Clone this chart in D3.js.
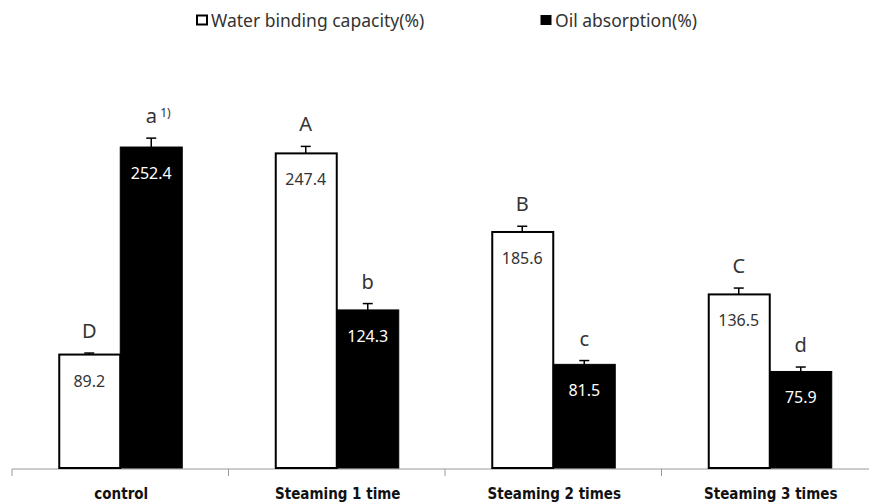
<!DOCTYPE html>
<html><head><meta charset="utf-8">
<script src="https://cdn.jsdelivr.net/npm/d3@7"></script>
<style>body{margin:0;background:#fff}</style>
</head><body>
<svg id="c" width="869" height="504"></svg>
<script>
const categories = ["control", "Steaming 1 time", "Steaming 2 times", "Steaming 3 times"];
const seriesNames = ["Water binding capacity(%)", "Oil absorption(%)"];
const water = [89.2, 247.4, 185.6, 136.5];
const oil = [252.4, 124.3, 81.5, 75.9];
const waterErr = [1.2, 5.5, 4.5, 5];
const oilErr = [7, 5, 3, 3.5];
const waterLetters = ["D", "A", "B", "C"];
const oilLetters = ["a", "b", "c", "d"];

const svg = d3.select("#c");
const x = d3.scaleBand().domain(categories).range([12, 878]).paddingInner(0).paddingOuter(0);
const y = d3.scaleLinear().domain([0, 300]).range([468, 86.5]);
const barW = 62;

// axis
const ax = svg.append("g").attr("transform", "translate(0,469)");
ax.append("line").attr("x1", 12).attr("x2", 869).attr("stroke", "#999").attr("stroke-width", 1);
const tickPos = categories.map(c => x(c));
ax.selectAll("line.t").data(tickPos).enter().append("line").attr("class","t")
  .attr("x1", d => d).attr("x2", d => d).attr("y1", 0).attr("y2", 7).attr("stroke", "#999");
ax.selectAll("text").data(categories).enter().append("text")
  .attr("x", d => x(d) + x.bandwidth()/2 + 1).attr("y", 30)
  .attr("text-anchor", "middle").attr("font-family", "'DejaVu Sans Condensed', 'DejaVu Sans'")
  .attr("font-weight", "bold").attr("font-size", 15).attr("fill", "#111").text(d => d);

const data = [];
categories.forEach((c, i) => {
  data.push({c, v: water[i], e: waterErr[i], l: waterLetters[i], s: 0});
  data.push({c, v: oil[i], e: oilErr[i], l: oilLetters[i], s: 1});
});
const bx = d => x(d.c) + x.bandwidth()/2 + (d.s === 0 ? -barW : 0);

const g = svg.append("g");
// error bars
g.selectAll("g.err").data(data).enter().append("g").each(function(d){
  const cx = bx(d) + barW/2;
  const s = d3.select(this);
  s.append("line").attr("x1", cx).attr("x2", cx).attr("y1", y(d.v)).attr("y2", y(d.v + d.e)).attr("stroke", "#000").attr("stroke-width", 1.5);
  s.append("line").attr("x1", cx-5).attr("x2", cx+5).attr("y1", y(d.v + d.e)).attr("y2", y(d.v + d.e)).attr("stroke", "#000").attr("stroke-width", 1.5);
});
g.selectAll("rect").data(data).enter().append("rect")
  .attr("x", d => bx(d) + (d.s === 0 ? 1 : 0)).attr("width", d => d.s === 0 ? barW - 1 : barW)
  .attr("y", d => y(d.v)).attr("height", d => y(0) - y(d.v))
  .attr("fill", d => d.s === 0 ? "#fff" : "#000").attr("stroke", "#000").attr("stroke-width", d => d.s === 0 ? 2 : 1);
// value labels
g.selectAll("text.val").data(data).enter().append("text").attr("class","val")
  .attr("x", d => bx(d) + barW/2).attr("y", d => y(d.v) + 32)
  .attr("text-anchor", "middle").attr("font-family", "'Noto Sans', sans-serif").attr("font-size", 16)
  .attr("fill", d => d.s === 0 ? "#333" : "#fff").text(d => d.v.toFixed(1));
// letters
g.selectAll("text.let").data(data).enter().append("text").attr("class","let")
  .attr("x", d => bx(d) + barW/2).attr("y", d => y(d.v + d.e) - 15)
  .attr("text-anchor", "middle").attr("font-family", "'Noto Sans', sans-serif").attr("font-size", 20)
  .attr("fill", "#333").text(d => d.l);
// superscript on first oil letter
const d0 = data[1];
g.append("text").attr("x", bx(d0) + barW/2 + 9).attr("y", y(d0.v + d0.e) - 21)
  .attr("font-family", "'Noto Sans', sans-serif").attr("font-size", 12).attr("fill", "#333").text("1)");

// legend
const leg = svg.append("g");
const legX = [197, 541];
seriesNames.forEach((n, i) => {
  leg.append("rect").attr("x", legX[i]).attr("y", 15.5).attr("width", 10).attr("height", 9)
    .attr("fill", i === 0 ? "#fff" : "#000").attr("stroke", "#000").attr("stroke-width", i === 0 ? 2 : 1);
  leg.append("text").attr("x", legX[i] + 14).attr("y", 27).attr("font-family", "'Noto Sans', sans-serif")
    .attr("font-size", 17.5).attr("fill", "#333").text(n);
});
</script>
</body></html>
